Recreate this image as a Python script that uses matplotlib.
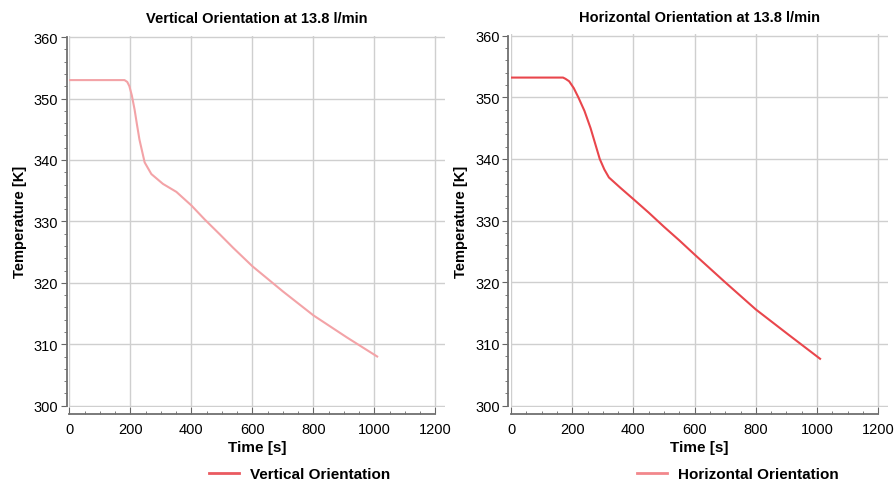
import matplotlib.pyplot as plt
from matplotlib.ticker import MultipleLocator
import numpy as np

plt.rcParams['font.family'] = ['Liberation Sans', 'DejaVu Sans']

# readings
t_vert = [0, 100, 181, 190, 197, 205, 214, 222, 230, 247, 269, 307, 351, 400, 444,
          493, 537, 600, 700, 800, 910, 1009]
T_vert = [353.0, 353.0, 353.0, 352.7, 352.0, 350.5, 348.2, 345.7, 343.3, 339.6, 337.7,
          336.1, 334.8, 332.6, 330.3, 327.9, 325.7, 322.7, 318.6, 314.7, 311.1, 308.0]

t_horz = [0, 100, 170, 178, 190, 205, 220, 240, 260, 275, 290, 305, 320, 358, 402,
          450, 500, 550, 600, 700, 800, 907, 1010]
T_horz = [353.2, 353.2, 353.2, 353.0, 352.6, 351.5, 350.0, 347.8, 345.0, 342.5, 340.0,
          338.3, 337.0, 335.3, 333.4, 331.3, 329.0, 326.8, 324.5, 320.0, 315.6, 311.5, 307.6]

titles = ['Vertical Orientation at 13.8 l/min', 'Horizontal Orientation at 13.8 l/min']
labels = ['Vertical Orientation', 'Horizontal Orientation']
line_colors = ['#f3a3a7', '#e9464c']
legend_colors = ['#ea5a60', '#f2878c']

fig = plt.figure(figsize=(8.94, 4.85), dpi=100)
ax1 = fig.add_axes([0.0775, 0.159, 0.4205, 0.765])
ax2 = fig.add_axes([0.5716, 0.159, 0.4217, 0.768])

data = [(t_vert, T_vert), (t_horz, T_horz)]
leg_x = [0.335, 0.825]

for i, ax in enumerate([ax1, ax2]):
    t, T = data[i]
    ax.plot(t, T, color=line_colors[i], lw=1.5)
    ax.set_xlim(0, 1232)
    ax.set_ylim(299.8, 360.2)
    ax.xaxis.set_major_locator(MultipleLocator(200))
    ax.xaxis.set_minor_locator(MultipleLocator(50))
    ax.yaxis.set_major_locator(MultipleLocator(10))
    ax.yaxis.set_minor_locator(MultipleLocator(2))
    ax.grid(True, which='major', color='#cfcfcf', lw=1.0)
    for s in ['top', 'right']:
        ax.spines[s].set_visible(False)
    ax.spines['bottom'].set_position(('outward', 5))
    ax.spines['left'].set_position(('outward', 2))
    ax.spines['bottom'].set_bounds(0, 1200)
    ax.spines['left'].set_bounds(300, 360)
    for s in ['bottom', 'left']:
        ax.spines[s].set_color('#6f6f6f')
        ax.spines[s].set_linewidth(1.3)
    ax.tick_params(axis='x', which='major', direction='in', length=5, color='#666666',
                   labelsize=10.5, pad=6)
    ax.tick_params(axis='x', which='minor', direction='in', length=2.5, color='#666666')
    ax.tick_params(axis='y', which='major', direction='out', length=4, color='#666666',
                   labelsize=10.5, pad=2)
    ax.tick_params(axis='y', which='minor', direction='out', length=2, color='#666666')
    ax.set_title(titles[i], fontsize=10.5, fontweight='bold', pad=10)
    ax.set_xlabel('Time [s]', fontsize=11, fontweight='bold', labelpad=3)
    ax.set_ylabel('Temperature [K]', fontsize=10.5, fontweight='bold', labelpad=5)
    h, = ax.plot([], [], color=legend_colors[i], lw=2)
    fig.legend([h], [labels[i]], loc='center', bbox_to_anchor=(leg_x[i], 0.02),
               frameon=False, prop={'size': 11, 'weight': 'bold'}, handlelength=2.0,
               handletextpad=0.7)

fig.savefig('out.png', dpi=100)
